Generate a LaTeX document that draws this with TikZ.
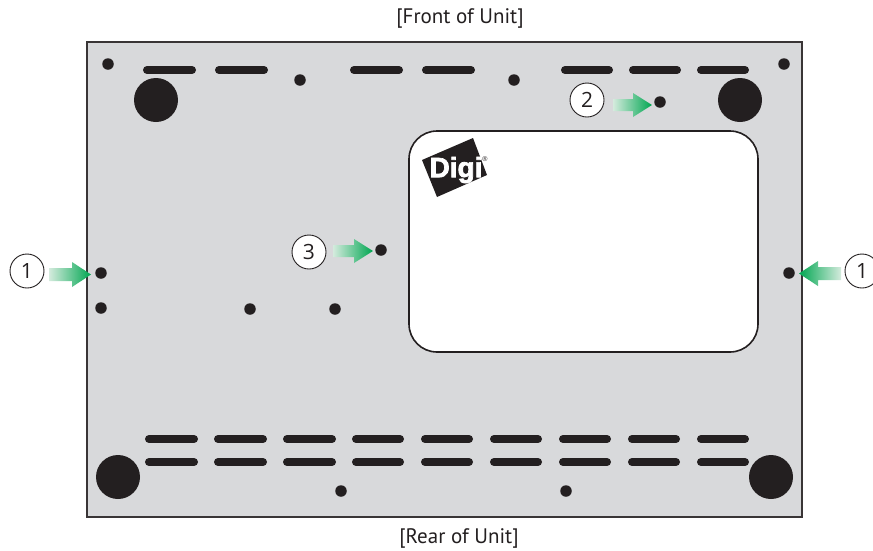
\documentclass[tikz,border=0pt]{standalone}
\usepackage{fontspec}
\setmainfont{PT Sans}
\newfontfamily\logofont[BoldFeatures={FakeBold=2.5}]{Liberation Sans}
\newfontfamily\digitfont{Open Sans}
\begin{document}
\begin{tikzpicture}[x=1pt,y=-1pt,
  slot/.style={line width=8pt,line cap=round,draw=ink},
  foot/.style={fill=ink,draw=none,circle,minimum size=44pt,inner sep=0pt},
  hole/.style={fill=ink,draw=none,circle,minimum size=11.5pt,inner sep=0pt},
  callout/.style={circle,draw=ink,line width=0.9pt,fill=white,minimum size=34pt,inner sep=0pt,font=\digitfont\fontsize{21}{24}\selectfont,text=ink},
  caption/.style={font=\fontsize{21}{24}\selectfont,text=ink}]
\definecolor{ink}{HTML}{231F20}
\definecolor{panel}{HTML}{D8D9DB}
\definecolor{arrowgreen}{HTML}{00A651}
\definecolor{arrowpale}{HTML}{D4EBDD}
\useasboundingbox (0,0) rectangle (873,550);
\fill[white] (0,0) rectangle (873,550);
% enclosure
\draw[fill=panel,draw=ink!90,line width=1.8pt] (87,42) rectangle (802,517);
\draw[fill=white,draw=ink,line width=1.6pt,rounded corners=28pt] (409,131) rectangle (758,352);
% logo
\fill[ink] (422,160) -- (473,138) -- (487,175) -- (437,197) -- cycle;
\node[text=white,font=\logofont\bfseries\fontsize{28}{28}\selectfont,inner sep=0pt] (logo) at (456,170) {Digi};
\node[text=ink,font=\logofont\fontsize{7}{7}\selectfont,inner sep=0pt] (reg) at (485,159.5) {®};
% top slots
\foreach \a/\b in {143/196,215/268,350/403,422/475,561/613,629/681,697/749}
  \draw[slot] (\a+4,70) -- (\b-4,70);
% bottom slots
\foreach \a/\b in {145/198,214/267,283/336,352/404,421/473,490/542,559/611,628/680,697/749}{
  \draw[slot] (\a+4,439) -- (\b-4,439);
  \draw[slot] (\a+4,462) -- (\b-4,462);
}
% feet
\node[foot] (f1) at (156,100) {};
\node[foot] (f2) at (740,100) {};
\node[foot] (f3) at (118,477) {};
\node[foot] (f4) at (771,477) {};
% holes
\foreach \n/\x/\y in {a/108/64,b/300/80,c/514/80,d/784/64,e/660/102,f/381/250,g/101/273,h/101/308,i/250/309,j/335/309,k/789/273,l/341/491,m/566/491}
  \node[hole] (h\n) at (\x,\y) {};
% arrows
\shade[left color=arrowpale,right color=arrowgreen,shading angle=90] (49,268) -- (72,268) -- (72,262) -- (91,274.5) -- (72,287) -- (72,281) -- (49,281) -- cycle;
\shade[left color=arrowpale,right color=arrowgreen,shading angle=90] (333,245) -- (354,245) -- (354,239) -- (373,251) -- (354,263) -- (354,257) -- (333,257) -- cycle;
\shade[left color=arrowpale,right color=arrowgreen,shading angle=90] (613,99) -- (633,99) -- (633,93) -- (652,105) -- (633,117) -- (633,111) -- (613,111) -- cycle;
\shade[left color=arrowgreen,right color=arrowpale,shading angle=90] (841,267) -- (818,267) -- (818,261) -- (799,273.5) -- (818,286) -- (818,280) -- (841,280) -- cycle;
% callouts
\node[callout] (c1) at (27,271) {1};
\node[callout] (c2) at (587,100) {2};
\node[callout] (c3) at (309,252) {3};
\node[callout] (c4) at (862,271) {1};
% captions
\node[caption] (front) at (460,18) {[Front of Unit]};
\node[caption] (rear) at (459,538) {[Rear of Unit]};
\end{tikzpicture}
\end{document}
